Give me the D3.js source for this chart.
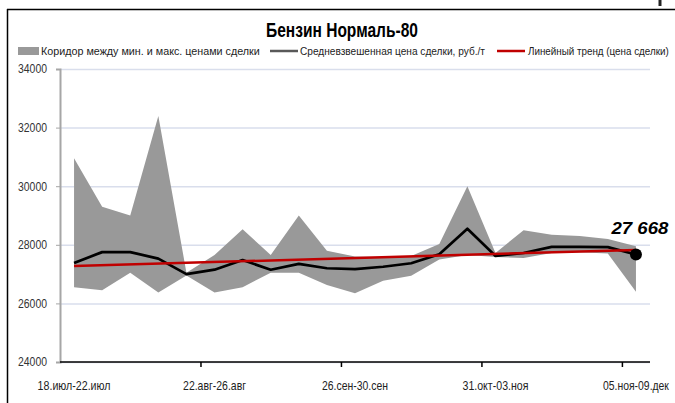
<!DOCTYPE html>
<html><head><meta charset="utf-8">
<script src="https://cdn.jsdelivr.net/npm/d3@7/dist/d3.min.js"></script>
<style>
html,body{margin:0;padding:0;background:#fff;}
svg{display:block;}
text{font-family:"Liberation Sans","Open Sans",sans-serif;}
</style></head>
<body><svg id="c" width="675" height="403"></svg>
<script>
const categories = ["18.июл-22.июл","25.июл-29.июл","01.авг-05.авг","08.авг-12.авг","15.авг-19.авг",
"22.авг-26.авг","29.авг-02.сен","05.сен-09.сен","12.сен-16.сен","19.сен-23.сен",
"26.сен-30.сен","03.окт-07.окт","10.окт-14.окт","17.окт-21.окт","24.окт-28.окт",
"31.окт-03.ноя","07.ноя-11.ноя","14.ноя-18.ноя","21.ноя-25.ноя","28.ноя-02.дек","05.ноя-09.дек"];
const minPrice = [26550,26450,27050,26370,26950,26370,26550,27050,27050,26630,26350,26770,26940,27500,27650,27580,27550,27720,27750,27700,26400];
const maxPrice = [30950,29300,29000,32400,27050,27650,28530,27650,29000,27800,27600,27580,27620,28030,30000,27720,28500,28340,28300,28200,27950];
const avgPrice = [27380,27750,27750,27530,27000,27150,27480,27150,27350,27200,27170,27250,27370,27680,28550,27620,27720,27930,27930,27920,27668];
const yTicks = [24000,26000,28000,30000,32000,34000];
const xLabelCats = ["18.июл-22.июл","22.авг-26.авг","26.сен-30.сен","31.окт-03.ноя","05.ноя-09.дек"];
const title = "Бензин Нормаль-80";
const legendLabels = ["Коридор между мин. и макс. ценами сделки","Средневзвешенная цена сделки, руб./т","Линейный тренд (цена сделки)"];

const svg = d3.select("#c");
const L=60, R=650, T=69, B=362;
const x = d3.scaleBand().domain(categories).range([L,R]);
const xc = c => x(c) + x.bandwidth()/2;
const xb = d3.scaleLinear().domain([0, categories.length]).range([L,R]);
const y = d3.scaleLinear().domain([24000,34000]).range([B,T]);
// condense a text horizontally to a target width around its anchor x
const fit = (sel, w) => sel.each(function(){
  const nat = this.getComputedTextLength();
  if (!nat) return;
  const s = w / nat;
  const ax = +(this.getAttribute("x") || 0);
  const prev = this.getAttribute("transform") || "";
  this.setAttribute("transform", `${prev} translate(${ax},0) scale(${s},1) translate(${-ax},0)`);
});

// frame
svg.append("line").attr("x1",7.5).attr("x2",7.5).attr("y1",9).attr("y2",403).attr("stroke","#000").attr("stroke-width",1.5);
svg.append("line").attr("x1",7).attr("x2",675).attr("y1",9.5).attr("y2",9.5).attr("stroke","#000").attr("stroke-width",1.5);
svg.append("line").attr("x1",660).attr("x2",660).attr("y1",0).attr("y2",6).attr("stroke","#222").attr("stroke-width",3);

// title
svg.append("text").attr("x",342).attr("y",37).attr("text-anchor","middle")
  .attr("font-size",20).attr("font-weight","bold").attr("fill","#000").text(title)
  .call(fit,152);

// legend
const lg = svg.append("g").attr("font-size",11.5).attr("fill","#222");
lg.append("rect").attr("x",18).attr("y",47).attr("width",21).attr("height",8).attr("fill","#999");
lg.append("text").attr("x",41).attr("y",55).text(legendLabels[0]).call(fit,219);
lg.append("line").attr("x1",270).attr("x2",298).attr("y1",51).attr("y2",51).attr("stroke","#595959").attr("stroke-width",2.5);
lg.append("text").attr("x",300).attr("y",55).text(legendLabels[1]).call(fit,185);
lg.append("line").attr("x1",497).attr("x2",525).attr("y1",51).attr("y2",51).attr("stroke","#c00000").attr("stroke-width",2.5);
lg.append("text").attr("x",528).attr("y",55).text(legendLabels[2]).call(fit,141);

// grid
svg.append("g").attr("transform",`translate(${L},0)`)
  .call(d3.axisLeft(y).tickValues(yTicks).tickSize(-(R-L)).tickFormat(""))
  .call(g=>g.select(".domain").remove())
  .call(g=>g.selectAll(".tick line").attr("stroke","#d9deec").attr("stroke-width",1.5));

// band
const data = categories.map((c,i)=>({c, lo:minPrice[i], hi:maxPrice[i], v:avgPrice[i], i}));
svg.append("path").datum(data)
  .attr("d", d3.area().x(d=>xc(d.c)).y0(d=>y(d.lo)).y1(d=>y(d.hi)))
  .attr("fill","#999");

// y axis
svg.append("g").attr("transform",`translate(${L},0)`)
  .call(d3.axisLeft(y).tickValues(yTicks).tickSize(4).tickPadding(9).tickFormat(d3.format("d")))
  .call(g=>g.select(".domain").attr("stroke","#a6a6a6").attr("stroke-width",2))
  .call(g=>g.selectAll(".tick line").attr("stroke","#a6a6a6"))
  .call(g=>g.selectAll(".tick text").attr("font-size",12).attr("fill","#333").call(fit,29));

// x axis ticks
svg.append("g").attr("transform",`translate(0,${B})`)
  .call(d3.axisBottom(xb).tickValues([5,10,15,20]).tickSize(5).tickFormat(""))
  .call(g=>g.select(".domain").attr("d",`M${L},0H${R}`).attr("stroke","#000").attr("stroke-width",1.5))
  .call(g=>g.selectAll(".tick line").attr("stroke","#000").attr("stroke-width",1.5));
// x labels
const xLabelW = [73,63,66,66,66];
svg.append("g").attr("transform",`translate(0,${B})`)
  .call(d3.axisBottom(x).tickValues(xLabelCats).tickSize(0).tickPadding(19))
  .call(g=>g.select(".domain").remove())
  .call(g=>g.selectAll(".tick text").attr("font-size",12).attr("fill","#222")
     .each(function(d,i){ d3.select(this).call(fit, xLabelW[i]); }));

// trend (least squares of avg)
const n = avgPrice.length;
const mx = d3.mean(d3.range(n)), my = d3.mean(avgPrice);
const slope = d3.sum(d3.range(n), i=>(i-mx)*(avgPrice[i]-my)) / d3.sum(d3.range(n), i=>(i-mx)*(i-mx));
const icpt = my - slope*mx;

// avg line
svg.append("path").datum(data)
  .attr("d", d3.line().x(d=>xc(d.c)).y(d=>y(d.v)))
  .attr("fill","none").attr("stroke","#000").attr("stroke-width",2.7).attr("stroke-linejoin","round");

// trend line
svg.append("line")
  .attr("x1",xc(categories[0])).attr("y1",y(icpt))
  .attr("x2",xc(categories[n-1])).attr("y2",y(icpt+slope*(n-1)))
  .attr("stroke","#c00000").attr("stroke-width",2.5);

// last point marker + label
const last = data[n-1];
svg.append("circle").attr("cx",xc(last.c)).attr("cy",y(last.v)).attr("r",6).attr("fill","#000");
svg.append("text").attr("x",xc(last.c)+4).attr("y",y(last.v)-21).attr("text-anchor","middle")
  .attr("font-size",16).attr("font-weight","bold").attr("font-style","italic").attr("fill","#000")
  .text(d3.format(",")(last.v).replace(",", " ")).call(fit,57);
</script></body></html>
